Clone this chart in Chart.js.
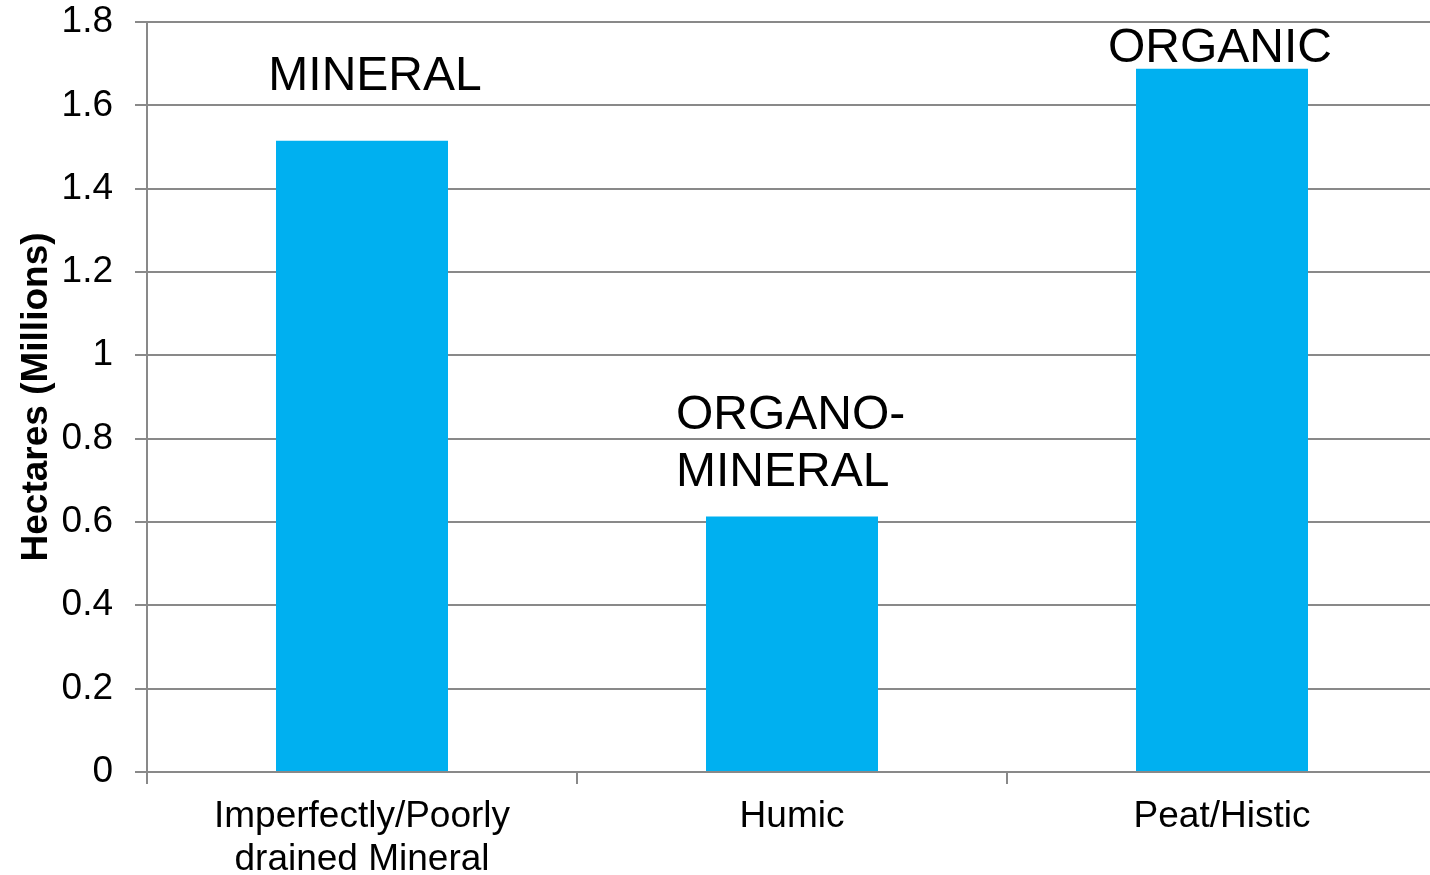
<!DOCTYPE html>
<html>
<head>
<meta charset="utf-8">
<script src="https://cdn.jsdelivr.net/npm/chart.js@4.4.0/dist/chart.umd.min.js"></script>
<style>
  html, body { margin: 0; padding: 0; background: #fff; overflow: hidden; }
  /* plot area runs slightly past the right edge, as in the original */
  #wrap { width: 1437px; height: 875px; }
</style>
</head>
<body>
<div id="wrap"><canvas id="chart_soil_area"></canvas></div>
<script>
// categories and values (millions of hectares)
let categoryList = [['Imperfectly/Poorly', 'drained Mineral'], 'Humic', 'Peat/Histic'];
let hectareList = [1.515, 0.613, 1.688];
let groupLabelList = [['MINERAL'], ['ORGANO-', 'MINERAL'], ['ORGANIC']];

let fontName = '"Liberation Sans", Arial, sans-serif';

// text boxes above the bars, placed relative to each bar
const groupLabelPlugin = {
  id: 'groupLabels',
  afterDatasetsDraw(chart, args, opts) {
    let ctx = chart.ctx;
    let bars = chart.getDatasetMeta(0).data;
    ctx.save();
    ctx.font = '48px ' + fontName;
    ctx.fillStyle = '#000';
    ctx.textBaseline = 'alphabetic';
    for (var i = 0; i < bars.length; i++) {
      let place = opts.places[i];
      let lines = groupLabelList[i];
      ctx.textAlign = place.align;
      for (var j = 0; j < lines.length; j++) {
        let y = bars[i].y - place.dy - (lines.length - 1 - j) * 57;
        ctx.fillText(lines[j], bars[i].x + place.dx, y);
      }
    }
    ctx.restore();
  }
};

new Chart(document.getElementById('chart_soil_area'), {
  type: 'bar',
  data: {
    labels: categoryList,
    datasets: [{
      label: 'Hectares',
      data: hectareList,
      backgroundColor: '#00B0F0',
      borderWidth: 0,
      barPercentage: 0.4,
      categoryPercentage: 1.0
    }]
  },
  options: {
    responsive: true,
    maintainAspectRatio: false,
    animation: false,
    layout: { padding: { top: 22, right: 0, left: 8, bottom: -18 } },
    plugins: {
      legend: { display: false },
      tooltip: { enabled: false },
      groupLabels: {
        places: [
          { dx: 13, dy: 51, align: 'center' },
          { dx: -116, dy: 31, align: 'left' },
          { dx: -2, dy: 7, align: 'center' }
        ]
      }
    },
    scales: {
      x: {
        afterFit: function(scale) { scale.paddingRight = 0; },
        grid: { offset: true, drawOnChartArea: false, color: '#898989', lineWidth: 2, tickLength: 12 },
        border: { color: '#898989', width: 2 },
        ticks: { color: '#000', font: { family: fontName, size: 37, lineHeight: 1.15 }, padding: 12, maxRotation: 0 }
      },
      y: {
        min: 0,
        max: 1.8,
        afterFit: function(scale) {
          scale.width = 139;
          scale.paddingTop = 0;
        },
        ticks: {
          stepSize: 0.2,
          color: '#000',
          font: { family: fontName, size: 37 },
          padding: 22,
          callback: function(value) { return String(Number(value.toFixed(1))); }
        },
        grid: { color: '#898989', lineWidth: 2, tickLength: 12 },
        border: { color: '#898989', width: 2 },
        title: {
          display: true,
          text: 'Hectares (Millions)',
          color: '#000',
          font: { family: fontName, size: 37, weight: 'bold' },
          padding: 7
        }
      }
    }
  },
  plugins: [groupLabelPlugin]
});
</script>
</body>
</html>
